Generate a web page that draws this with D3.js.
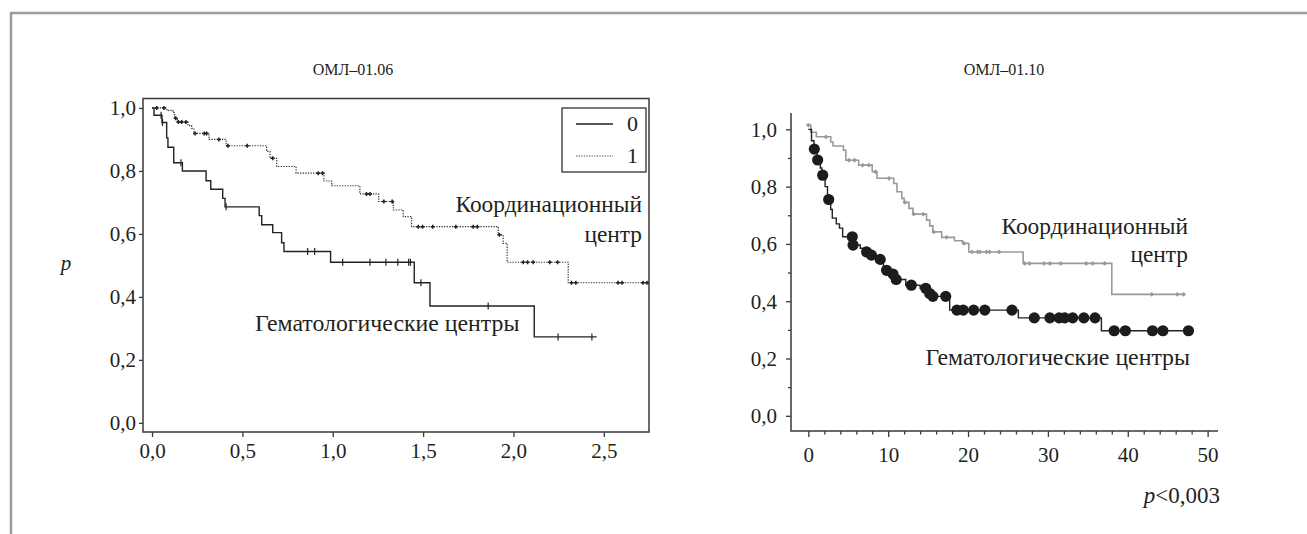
<!DOCTYPE html>
<html><head><meta charset="utf-8">
<script src="https://cdn.jsdelivr.net/npm/d3@7"></script>
<style>
html,body{margin:0;padding:0;background:#fff;}
svg{display:block;}
svg text{font-family:"Liberation Serif","Tinos","Times New Roman","DejaVu Serif","Noto Serif",serif !important;fill:#231f20;}
</style></head>
<body>
<svg id="c" width="1307" height="534"></svg>
<script>
// ---------- DATA ----------
// Left chart (ОМЛ–01.06): time in years, [t, p] steps (value p from time t)
const leftTitle = "ОМЛ–01.06";
const leftXTicks = [0, 0.5, 1.0, 1.5, 2.0, 2.5];
const leftYTicks = [0, 0.2, 0.4, 0.6, 0.8, 1.0];
const legendLabels = ["0", "1"];
const left0Steps = [[0,1.0],[0.011,0.977],[0.055,0.954],[0.081,0.905],[0.088,0.875],[0.12,0.826],[0.168,0.80],[0.299,0.769],[0.325,0.742],[0.391,0.713],[0.404,0.686],[0.593,0.658],[0.607,0.629],[0.668,0.604],[0.717,0.572],[0.730,0.544],[0.988,0.510],[1.451,0.445],[1.538,0.371],[2.115,0.273]];
const left0End = 2.46;
const left0Censor = [0.05,0.058,0.16,0.41,0.861,0.90,1.055,1.206,1.294,1.36,1.42,1.43,1.488,1.86,2.247,2.434];
const left1Steps = [[0,1.0],[0.081,0.992],[0.116,0.985],[0.125,0.967],[0.14,0.955],[0.199,0.944],[0.219,0.935],[0.232,0.919],[0.315,0.90],[0.41,0.88],[0.634,0.862],[0.653,0.84],[0.69,0.814],[0.797,0.793],[0.951,0.768],[0.994,0.753],[1.15,0.727],[1.254,0.703],[1.335,0.676],[1.39,0.655],[1.436,0.623],[1.916,0.597],[1.943,0.57],[1.965,0.51],[2.303,0.445]];
const left1End = 2.75;
const left1Censor = [0.026,0.066,0.131,0.146,0.164,0.188,0.238,0.289,0.302,0.37,0.42,0.527,0.668,0.92,0.944,1.187,1.206,1.283,1.329,1.473,1.497,1.553,1.681,1.777,1.80,1.922,2.054,2.078,2.109,2.201,2.244,2.321,2.345,2.579,2.601,2.717,2.739];
const leftLabelUpper = ["Координационный", "центр"];
const leftLabelLower = "Гематологические центры";
const leftYTitle = "p";

// Right chart (ОМЛ–01.10): time in months
const rightTitle = "ОМЛ–01.10";
const rightXTicks = [0, 10, 20, 30, 40, 50];
const rightXMinor = [2,4,6,8,12,14,16,18,22,24,26,28,32,34,36,38,42,44,46,48];
const rightYTicks = [0, 0.2, 0.4, 0.6, 0.8, 1.0];
const rightYMinor = [0.1, 0.3, 0.5, 0.7, 0.9];
const grayStepsR = [[0,1.015],[0.3,0.99],[1.0,0.974],[2.8,0.956],[3.1,0.942],[4.4,0.927],[4.7,0.892],[6.3,0.875],[8.0,0.852],[8.6,0.829],[10.7,0.811],[11.1,0.782],[11.7,0.759],[12.0,0.745],[12.6,0.724],[13.1,0.704],[14.8,0.683],[15.2,0.663],[15.6,0.642],[16.7,0.623],[18.3,0.611],[19.3,0.602],[20.1,0.572],[26.9,0.532],[38.0,0.424]];
const grayEndR = 47.1;
const grayCensorR = [0,2.2,5.1,5.8,6.8,7.6,8.4,10.1,12.1,13.2,14.4,15.7,17.3,19.5,20.5,21.2,21.5,22.3,22.7,23.9,27.1,27.7,29.5,30.25,31.6,34.8,35.6,37.1,43.0,46.2,47.0];
const blackStepsR = [[0,1.0],[0.4,0.96],[0.7,0.931],[1.1,0.893],[1.5,0.865],[1.7,0.84],[2.1,0.80],[2.4,0.755],[2.8,0.72],[3.0,0.69],[3.5,0.67],[3.9,0.655],[4.3,0.625],[5.55,0.596],[6.5,0.585],[7.0,0.572],[7.7,0.561],[8.5,0.546],[9.4,0.508],[10.3,0.495],[10.9,0.476],[12.2,0.456],[14.0,0.445],[15.0,0.427],[15.4,0.417],[17.7,0.369],[26.3,0.342],[36.7,0.297]];
const blackEndR = 47.6;
const blackCensorR = [0.75,1.17,1.8,2.55,5.5,5.6,7.3,7.9,9.0,9.8,10.6,11.0,12.9,14.7,15.2,15.6,17.2,18.6,19.4,20.7,22.1,25.5,28.3,30.25,31.4,32.1,33.1,34.5,35.9,38.3,39.7,43.1,44.4,47.6];
const rightLabelUpper = ["Координационный", "центр"];
const rightLabelLower = "Гематологические центры";
const pValueText = "p<0,003";

// ---------- HELPERS ----------
const FONT = '"Liberation Serif","Tinos","Times New Roman","DejaVu Serif","Noto Serif",serif';
const svg = d3.select("#c");
const fmtComma = d => d3.format(".1f")(d).replace(".", ",");
function stepValue(steps, t){
  let v = steps[0][1];
  for (const s of steps){ if (s[0] <= t) v = s[1]; else break; }
  return v;
}
function stepPts(steps, end){ return steps.concat([[end, steps[steps.length-1][1]]]); }
function styleAxis(a, size){
  a.attr("font-family", FONT);
  a.select(".domain").remove();
  a.selectAll("line").attr("stroke","#3a3a3a").attr("stroke-width",1.3);
  a.selectAll("text").attr("font-family", FONT).style("font-size", size+"px").attr("fill","#231f20");
}

// frame
svg.append("path").attr("d","M11,534V13H1307").attr("fill","none").attr("stroke","#9c9c9c").attr("stroke-width",2.5);

// ---------- LEFT CHART ----------
const xL = d3.scaleLinear().domain([-0.05, 2.75]).range([143, 649]);
const yL = d3.scaleLinear().domain([-0.029, 1.03]).range([432, 98.5]);
const gL = svg.append("g");
gL.append("rect").attr("x",xL.range()[0]).attr("y",yL.range()[1]).attr("width",xL.range()[1]-xL.range()[0]).attr("height",yL.range()[0]-yL.range()[1])
  .attr("fill","none").attr("stroke","#3a3a3a").attr("stroke-width",1.5);
const axBL = gL.append("g").attr("transform",`translate(0,${yL.range()[0]})`)
  .call(d3.axisBottom(xL).tickValues(leftXTicks).tickFormat(fmtComma).tickSize(5).tickPadding(4));
const axLL = gL.append("g").attr("transform",`translate(${xL.range()[0]},0)`)
  .call(d3.axisLeft(yL).tickValues(leftYTicks).tickFormat(fmtComma).tickSize(4).tickPadding(3));
styleAxis(axBL, 21); styleAxis(axLL, 21);
axBL.selectAll("text").attr("dy","0.8em");
axLL.selectAll("text").attr("dy","0.33em");

const lineL = d3.line().x(d=>xL(d[0])).y(d=>yL(d[1])).curve(d3.curveStepAfter);
gL.append("path").attr("d", lineL(stepPts(left1Steps,left1End))).attr("fill","none").attr("stroke","#333").attr("stroke-width",1.2).attr("stroke-dasharray","1.3,1.3");
gL.append("path").attr("d", lineL(stepPts(left0Steps,left0End))).attr("fill","none").attr("stroke","#222").attr("stroke-width",1.4);
gL.selectAll(".c0").data(left0Censor).join("line")
  .attr("x1",d=>xL(d)).attr("x2",d=>xL(d)).attr("y1",d=>yL(stepValue(left0Steps,d))-3.5).attr("y2",d=>yL(stepValue(left0Steps,d))+3.5)
  .attr("stroke","#222").attr("stroke-width",1.2);
gL.selectAll(".c1").data(left1Censor).join("path")
  .attr("d",d=>{const x=xL(d), y=yL(stepValue(left1Steps,d)); return `M${x-2},${y}H${x+2}M${x},${y-2}V${y+2}`;})
  .attr("stroke","#222").attr("stroke-width",1.5);
// legend
gL.append("rect").attr("x",562).attr("y",108).attr("width",84).attr("height",64).attr("fill","#fff").attr("stroke","#222").attr("stroke-width",1.2);
gL.append("line").attr("x1",576).attr("x2",613).attr("y1",124).attr("y2",124).attr("stroke","#222").attr("stroke-width",1.3);
gL.append("line").attr("x1",576).attr("x2",613).attr("y1",156).attr("y2",156).attr("stroke","#444").attr("stroke-width",1.1).attr("stroke-dasharray","1.3,1.3");
gL.selectAll(".lg").data(legendLabels).join("text").attr("x",638).attr("y",(d,i)=>131+i*31.5).attr("text-anchor","end").attr("font-family",FONT).style("font-size","22px").text(d=>d);
// labels
gL.append("text").attr("x",353).attr("y",75).attr("text-anchor","middle").attr("font-family",FONT).style("font-size","16px").text(leftTitle);
gL.selectAll(".lu").data(leftLabelUpper).join("text").attr("x",642).attr("y",(d,i)=>212+i*30).attr("text-anchor","end").attr("font-family",FONT).style("font-size","23.4px").text(d=>d);
gL.append("text").attr("x",255).attr("y",331).attr("font-family",FONT).style("font-size","23.8px").text(leftLabelLower);
gL.append("text").attr("x",66).attr("y",270).attr("text-anchor","middle").attr("font-family",FONT).style("font-size","21px").style("font-style","italic").text(leftYTitle);

// ---------- RIGHT CHART ----------
const xR = d3.scaleLinear().domain([-2.17, 51.3]).range([791, 1218]);
const yR = d3.scaleLinear().domain([-0.053, 1.057]).range([431, 113]);
const gR = svg.append("g");
gR.append("path").attr("d",`M${xR.range()[0]},${yR.range()[1]}V${yR.range()[0]}H${xR.range()[1]}`).attr("fill","none").attr("stroke","#3a3a3a").attr("stroke-width",1.5);
const axBR = gR.append("g").attr("transform",`translate(0,${yR.range()[0]})`)
  .call(d3.axisBottom(xR).tickValues(rightXTicks).tickFormat(d3.format("d")).tickSize(6).tickPadding(8));
const axBRm = gR.append("g").attr("transform",`translate(0,${yR.range()[0]})`)
  .call(d3.axisBottom(xR).tickValues(rightXMinor).tickFormat("").tickSize(3.5));
const axLR = gR.append("g").attr("transform",`translate(${xR.range()[0]},0)`)
  .call(d3.axisLeft(yR).tickValues(rightYTicks).tickFormat(fmtComma).tickSize(5).tickPadding(9));
const axLRm = gR.append("g").attr("transform",`translate(${xR.range()[0]},0)`)
  .call(d3.axisLeft(yR).tickValues(rightYMinor).tickFormat("").tickSize(3));
[axBR, axBRm, axLR, axLRm].forEach(a=>styleAxis(a, 21));
axBR.selectAll("text").attr("dy","0.8em");
axLR.selectAll("text").attr("dy","0.33em");

const lineR = d3.line().x(d=>xR(d[0])).y(d=>yR(d[1])).curve(d3.curveStepAfter);
gR.append("path").attr("d", lineR(stepPts(grayStepsR,grayEndR))).attr("fill","none").attr("stroke","#9a9a9a").attr("stroke-width",1.6);
gR.selectAll(".gc").data(grayCensorR).join("path")
  .attr("d",d=>{const x=xR(d), y=yR(stepValue(grayStepsR,d)); return `M${x-2.4},${y}L${x},${y-2.4}L${x+2.4},${y}L${x},${y+2.4}Z`;})
  .attr("fill","#9a9a9a");
gR.append("path").attr("d", lineR(stepPts(blackStepsR,blackEndR))).attr("fill","none").attr("stroke","#222").attr("stroke-width",1.4);
gR.selectAll(".bc").data(blackCensorR).join("circle")
  .attr("cx",d=>xR(d)).attr("cy",d=>yR(stepValue(blackStepsR,d))).attr("r",5.6).attr("fill","#1c1c1c");
gR.append("text").attr("x",1004).attr("y",75).attr("text-anchor","middle").attr("font-family",FONT).style("font-size","16px").text(rightTitle);
gR.selectAll(".ru").data(rightLabelUpper).join("text").attr("x",1188).attr("y",(d,i)=>234+i*28).attr("text-anchor","end").attr("font-family",FONT).style("font-size","23.4px").text(d=>d);
gR.append("text").attr("x",1190).attr("y",365).attr("text-anchor","end").attr("font-family",FONT).style("font-size","23.8px").text(rightLabelLower);
const pv = gR.append("text").attr("x",1220).attr("y",503).attr("text-anchor","end").attr("font-family",FONT).style("font-size","23px");
pv.append("tspan").style("font-style","italic").text(pValueText.slice(0,1));
pv.append("tspan").text(pValueText.slice(1));
</script>
</body></html>
